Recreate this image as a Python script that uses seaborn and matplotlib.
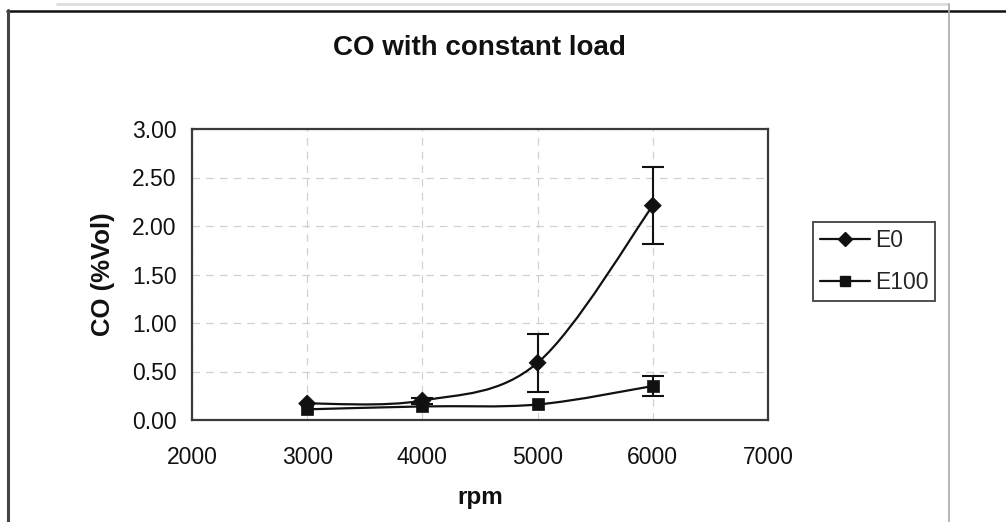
import numpy as np
import pandas as pd
import matplotlib
matplotlib.use("Agg")
import matplotlib.pyplot as plt
from matplotlib.path import Path
from matplotlib.patches import PathPatch
from matplotlib.lines import Line2D
import seaborn as sns

# ---- data ----
rpm = [3000, 4000, 5000, 6000]
e0 = [0.17, 0.20, 0.59, 2.21]
e0_err = [0.0, 0.03, 0.30, 0.40]
e100 = [0.11, 0.14, 0.16, 0.35]
e100_err = [0.0, 0.0, 0.0, 0.10]
series_names = ["E0", "E100"]
x_ticks = [2000, 3000, 4000, 5000, 6000, 7000]
y_ticks = [0.0, 0.5, 1.0, 1.5, 2.0, 2.5, 3.0]
title = "CO with constant load"
xlabel = "rpm"
ylabel = "CO (%Vol)"

sns.set_theme(style="white")
plt.rcParams["font.family"] = ["Liberation Sans", "DejaVu Sans"]

fig = plt.figure(figsize=(10.06, 5.22), dpi=100)
W, H = 1006, 522
ax = fig.add_axes([192 / W, 1 - 420 / H, 576 / W, 291 / H])

df = pd.DataFrame({
    "rpm": rpm * 2,
    "co": e0 + e100,
    "err": e0_err + e100_err,
    "fuel": [series_names[0]] * len(rpm) + [series_names[1]] * len(rpm),
})


def smooth_path(xs, ys, ax):
    # Excel-style smoothed line: cubic Bezier (Catmull-Rom) built from data points
    pts = ax.transData.transform(np.column_stack([xs, ys]))
    n = len(pts)
    verts = [pts[0]]
    codes = [Path.MOVETO]
    for i in range(n - 1):
        p0 = pts[i - 1] if i > 0 else pts[i]
        p1 = pts[i]
        p2 = pts[i + 1]
        p3 = pts[i + 2] if i + 2 < n else pts[i + 1]
        c1 = p1 + (p2 - p0) / 6.0
        c2 = p2 - (p3 - p1) / 6.0
        verts += [c1, c2, p2]
        codes += [Path.CURVE4] * 3
    inv = ax.transData.inverted()
    return Path(inv.transform(np.array(verts)), codes)


ax.set_xlim(2000, 7000)
ax.set_ylim(0, 3)

markers = {"E0": "D", "E100": "s"}
for name in series_names:
    sub = df[df["fuel"] == name]
    p = smooth_path(sub["rpm"].to_numpy(float), sub["co"].to_numpy(float), ax)
    ax.add_patch(PathPatch(p, facecolor="none", edgecolor="#111111", lw=1.6, zorder=3))
    eb = sub[sub["err"] > 0]
    ax.errorbar(eb["rpm"], eb["co"], yerr=eb["err"], fmt="none",
                ecolor="#111111", elinewidth=1.5, capsize=8, capthick=1.5, zorder=3)

sns.scatterplot(data=df, x="rpm", y="co", style="fuel", markers=markers,
                hue="fuel", palette={"E0": "#111111", "E100": "#111111"},
                s=75, edgecolor="#111111", linewidth=0.5, legend=False, ax=ax, zorder=4)

ax.set_xticks(x_ticks)
ax.set_yticks(y_ticks)
ax.set_yticklabels([f"{v:.2f}" for v in y_ticks])
ax.grid(True, color="#d0d0d0", linestyle=(0, (6, 5)), linewidth=0.9)
ax.set_axisbelow(True)
for s in ax.spines.values():
    s.set_color("#3a3a3a")
    s.set_linewidth(1.6)
ax.tick_params(axis="both", which="major", direction="out", length=5, width=1,
               color="#999999", labelsize=16.5, labelcolor="#111111", pad=6)
ax.tick_params(axis="x", pad=14)

ax.set_xlabel(xlabel, fontsize=17.5, fontweight="bold", color="#111111", labelpad=12)
ax.set_ylabel(ylabel, fontsize=18.5, fontweight="bold", color="#111111", labelpad=12)
fig.text(479 / W, 1 - 48 / H, title, ha="center", va="center", fontsize=20,
         fontweight="bold", color="#111111")

handles = [
    Line2D([], [], color="#111111", lw=1.6, marker="D", markersize=7.5, label=series_names[0]),
    Line2D([], [], color="#111111", lw=1.6, marker="s", markersize=7.5, label=series_names[1]),
]
leg = fig.legend(handles=handles, loc="upper left", bbox_to_anchor=(813 / W, 1 - 222 / H),
                 frameon=True, fancybox=False, fontsize=16.5, handlelength=2.2,
                 borderpad=0.3, labelspacing=0.85, handletextpad=0.2, borderaxespad=0)
leg.get_frame().set_edgecolor("#222222")
leg.get_frame().set_linewidth(1.4)

# outer frame lines (chart area border)
fig.add_artist(Line2D([57 / W, 948 / W], [1 - 4 / H, 1 - 4 / H], color="#dddddd", lw=2))
fig.add_artist(Line2D([7 / W, 1], [1 - 10.5 / H, 1 - 10.5 / H], color="#111111", lw=1.8))
fig.add_artist(Line2D([7.5 / W, 7.5 / W], [0, 1 - 10 / H], color="#444444", lw=2.2))
fig.add_artist(Line2D([948.5 / W, 948.5 / W], [0, 1 - 4 / H], color="#aaaaaa", lw=1.2))

fig.savefig("out.png", dpi=100)
